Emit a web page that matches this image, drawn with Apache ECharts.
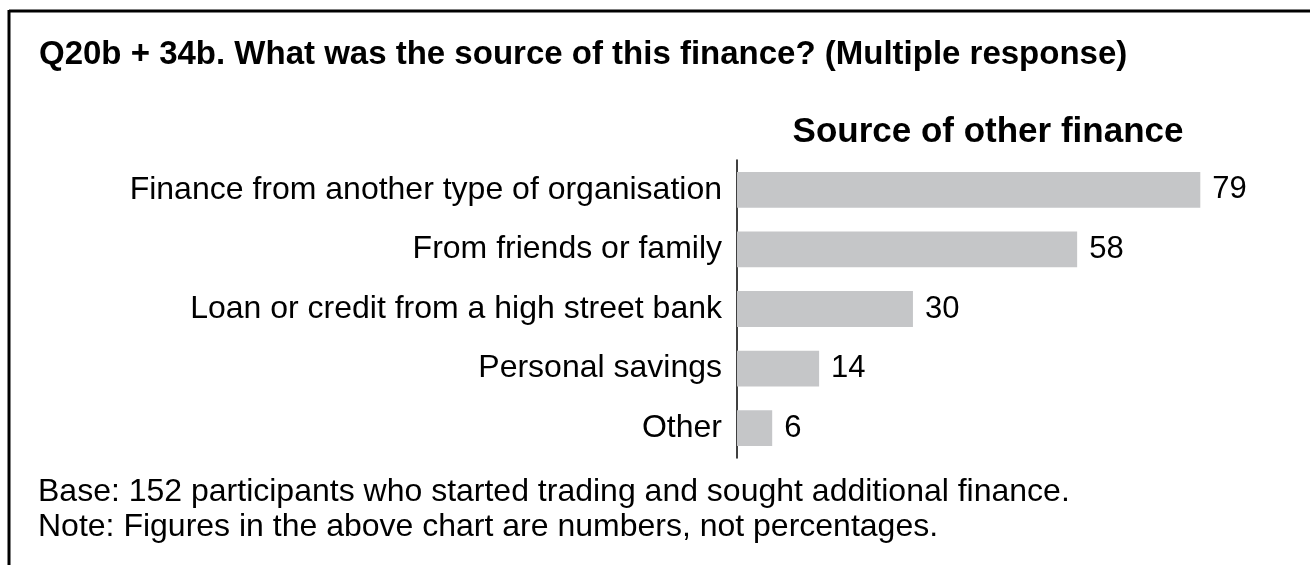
<!DOCTYPE html>
<html>
<head>
<meta charset="utf-8">
<script src="https://cdn.jsdelivr.net/npm/echarts@6/dist/echarts.min.js"></script>
<style>
  html, body { margin: 0; padding: 0; background: #fff; }
  #chart { width: 1310px; height: 565px; }
</style>
</head>
<body>
<div id="chart"></div>
<script>
// 数据
const categories = [
    'Finance from another type of organisation',
    'From friends or family',
    'Loan or credit from a high street bank',
    'Personal savings',
    'Other'
];
const counts = [79, 58, 30, 14, 6];

const FONT = '"Liberation Sans", Arial, sans-serif';

const chart = echarts.init(document.querySelector('#chart'));
chart.setOption({
    animation: false,
    backgroundColor: '#fff',
    title: [
        {
            text: 'Q20b + 34b. What was the source of this finance? (Multiple response)',
            left: 34,
            top: 33,
            textStyle: { fontFamily: FONT, fontSize: 33, fontWeight: 'bold', color: '#000' }
        },
        {
            text: 'Source of other finance',
            left: 983,
            top: 110,
            textAlign: 'center',
            textStyle: { fontFamily: FONT, fontSize: 35, fontWeight: 'bold', color: '#000' }
        },
        {
            text: 'Base: 152 participants who started trading and sought additional finance.\nNote: Figures in the above chart are numbers, not percentages.',
            left: 33,
            top: 470,
            textStyle: { fontFamily: FONT, fontSize: 32, fontWeight: 'normal', color: '#000', lineHeight: 35 }
        }
    ],
    // 外框线
    graphic: [
        { type: 'line', shape: { x1: 9, y1: 11, x2: 1310, y2: 11 }, style: { stroke: '#000', lineWidth: 3 } },
        { type: 'line', shape: { x1: 9, y1: 10, x2: 9, y2: 565 }, style: { stroke: '#000', lineWidth: 3 } }
    ],
    grid: {
        left: 737,
        right: 10,
        top: 160,
        bottom: 107
    },
    xAxis: {
        type: 'value',
        min: 0,
        max: 96,
        show: false
    },
    yAxis: {
        type: 'category',
        inverse: true,
        data: categories,
        axisLine: { lineStyle: { color: '#000', width: 1.5 } },
        axisTick: { show: false },
        axisLabel: {
            fontFamily: FONT,
            fontSize: 32,
            color: '#000',
            margin: 15
        }
    },
    series: [
        {
            type: 'bar',
            data: counts,
            barCategoryGap: '40%',
            itemStyle: { color: '#c5c6c8' },
            label: {
                show: true,
                position: 'right',
                distance: 12,
                fontFamily: FONT,
                fontSize: 31,
                color: '#000'
            }
        }
    ]
});
</script>
</body>
</html>
